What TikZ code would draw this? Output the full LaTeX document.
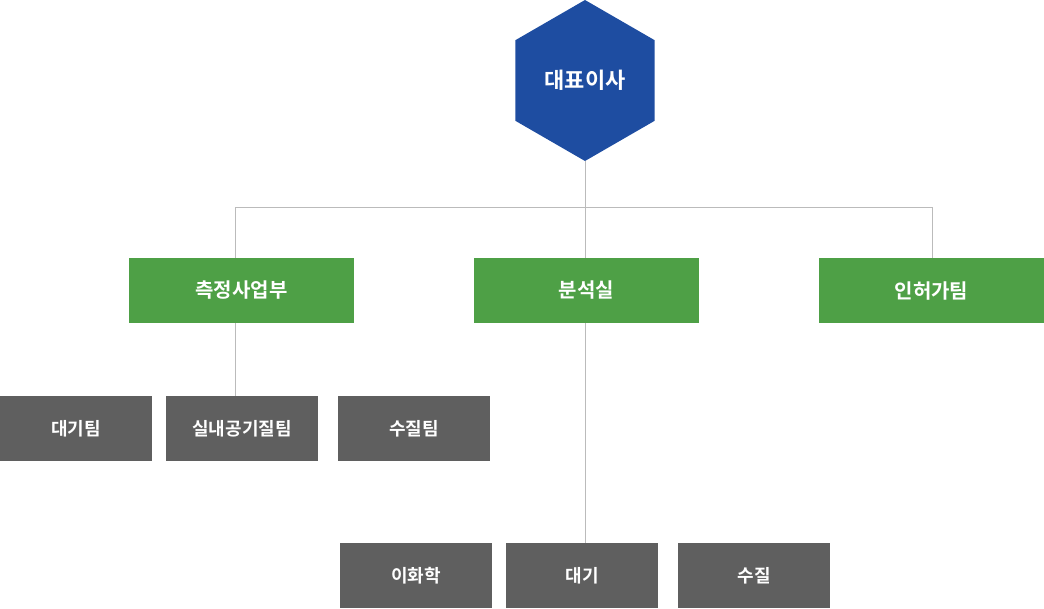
\documentclass[tikz,border=0pt]{standalone}
\usepackage{fontspec}
\setmainfont{Noto Sans CJK KR}[BoldFont={* Bold}]
\usetikzlibrary{shapes.geometric}
\definecolor{ceoblue}{HTML}{1E4DA1}
\definecolor{deptgreen}{HTML}{4EA046}
\definecolor{teamgray}{HTML}{5F5F5F}
\definecolor{linegray}{HTML}{BBBBBB}
\tikzset{
  ceobox/.style={regular polygon, regular polygon sides=6, shape border rotate=30,
    minimum size=161pt, inner sep=0pt, fill=ceoblue, text=white,
    font=\fontsize{22pt}{26pt}\selectfont\bfseries},
  deptbox/.style={rectangle, minimum width=225pt, minimum height=65pt, inner sep=0pt,
    fill=deptgreen, text=white, font=\fontsize{20pt}{24pt}\selectfont\bfseries},
  teambox/.style={rectangle, minimum width=152pt, minimum height=65pt, inner sep=0pt,
    fill=teamgray, text=white, font=\fontsize{18pt}{22pt}\selectfont\bfseries},
  conn/.style={draw=linegray, line width=1pt}
}
\begin{document}
\begin{tikzpicture}[x=1pt,y=-1pt]
\useasboundingbox (0,0) rectangle (1044,608);
\node[ceobox] (ceo) at (585,80.5) {대표이사};
\node[deptbox] (d1) at (241.5,290.5) {측정사업부};
\node[deptbox] (d2) at (586.5,290.5) {분석실};
\node[deptbox] (d3) at (931.5,290.5) {인허가팀};
\node[teambox] (t1) at (76,428.5) {대기팀};
\node[teambox] (t2) at (242,428.5) {실내공기질팀};
\node[teambox] (t3) at (414,428.5) {수질팀};
\node[teambox] (s1) at (416,575.5) {이화학};
\node[teambox] (s2) at (582,575.5) {대기};
\node[teambox] (s3) at (754,575.5) {수질};
\coordinate (b1) at (235,207);
\coordinate (b2) at (932,207);
\draw[conn] (ceo.south) -- (ceo.south |- d2.north);
\draw[conn] (b1) -- (b2);
\draw[conn] (b1) -- (b1 |- d1.north);
\draw[conn] (b2) -- (b2 |- d3.north);
\draw[conn] (b1 |- d1.south) -- (b1 |- t2.north);
\draw[conn] (ceo.south |- d2.south) -- (ceo.south |- s2.north);
\end{tikzpicture}
\end{document}
